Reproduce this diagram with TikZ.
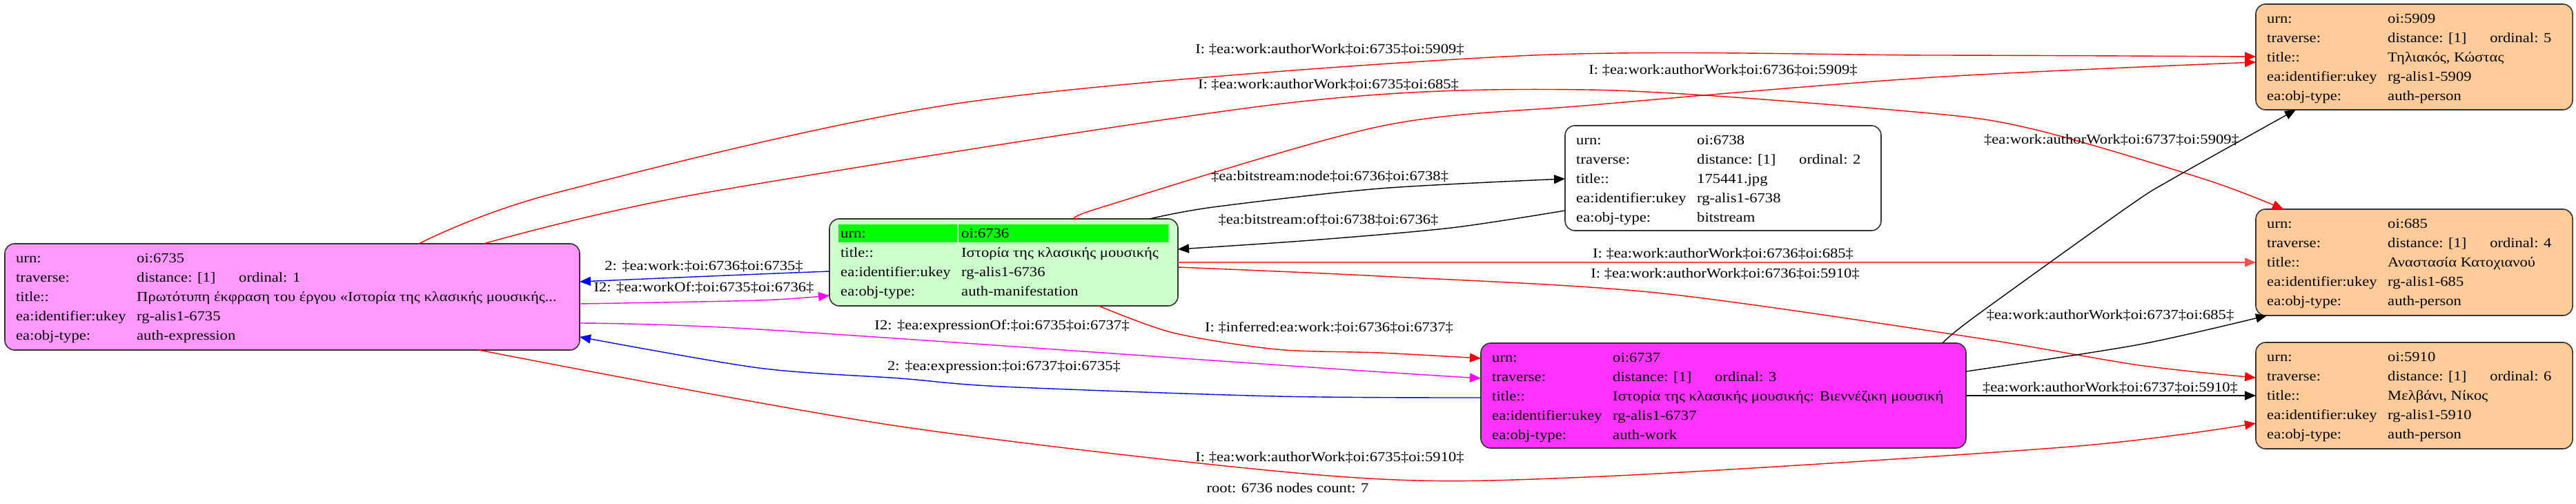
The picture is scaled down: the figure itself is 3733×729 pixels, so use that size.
\documentclass[tikz,border=0pt]{standalone}
\usepackage{fontspec}
\setmainfont{Liberation Serif}[FakeStretch=1.13]
\usetikzlibrary{arrows.meta}
\definecolor{pinkfill}{HTML}{FF99FF}
\definecolor{greenfill}{HTML}{CCFFCC}
\definecolor{greenhead}{HTML}{00FF00}
\definecolor{magfill}{HTML}{FF33FF}
\definecolor{personfill}{HTML}{FFCC99}
\definecolor{lightred}{HTML}{FF4D4D}
\definecolor{edgemag}{HTML}{FF00FF}
\definecolor{boxline}{HTML}{333333}
\newcommand\fldrow[4]{%
  \node[fld] at ([xshift=16pt,yshift={-(27+28*#2)*1pt}]#1.north west) {#3};
  \node[fld] at ([xshift=191pt,yshift={-(27+28*#2)*1pt}]#1.north west) {#4};}
\newcommand\trav[1]{\makebox[148pt][l]{distance: [1]}ordinal: #1}
\begin{document}
\begin{tikzpicture}[x=1pt,y=-1pt,
  recbox/.style={draw=boxline, line width=1.6pt, rounded corners=14pt, anchor=north west, inner sep=0pt, outer sep=0pt},
  fld/.style={anchor=base west, inner sep=0pt, font=\fontsize{20}{24}\selectfont},
  elabel/.style={inner sep=0pt, font=\fontsize{20}{24}\selectfont},
  edgeline/.style={line width=1.4pt, -{Triangle[length=16pt,width=13pt]}},
]
\useasboundingbox[fill=white] (0,0) rectangle (3733,729);

% ---------- nodes ----------
\node[recbox, fill=pinkfill, minimum width=833pt, minimum height=154pt] (n6735) at (7,353) {};
\fldrow{n6735}{0}{urn:}{oi:6735}
\fldrow{n6735}{1}{traverse:}{\trav{1}}
\fldrow{n6735}{2}{title::}{Πρωτότυπη έκφραση του έργου «Ιστορία της κλασικής μουσικής...}
\fldrow{n6735}{3}{ea:identifier:ukey}{rg-alis1-6735}
\fldrow{n6735}{4}{ea:obj-type:}{auth-expression}

\node[recbox, fill=greenfill, minimum width=505pt, minimum height=126pt] (n6736) at (1202,317) {};
\fill[greenhead] ([xshift=13pt,yshift=-8pt]n6736.north west) rectangle ([xshift=185pt,yshift=-34pt]n6736.north west);
\fill[greenhead] ([xshift=187pt,yshift=-8pt]n6736.north west) rectangle ([xshift=491pt,yshift=-34pt]n6736.north west);
\fldrow{n6736}{0}{urn:}{oi:6736}
\fldrow{n6736}{1}{title::}{Ιστορία της κλασικής μουσικής}
\fldrow{n6736}{2}{ea:identifier:ukey}{rg-alis1-6736}
\fldrow{n6736}{3}{ea:obj-type:}{auth-manifestation}

\node[recbox, fill=white, minimum width=458pt, minimum height=152pt] (n6738) at (2268,182) {};
\fldrow{n6738}{0}{urn:}{oi:6738}
\fldrow{n6738}{1}{traverse:}{\trav{2}}
\fldrow{n6738}{2}{title::}{175441.jpg}
\fldrow{n6738}{3}{ea:identifier:ukey}{rg-alis1-6738}
\fldrow{n6738}{4}{ea:obj-type:}{bitstream}

\node[recbox, fill=magfill, minimum width=703pt, minimum height=152pt] (n6737) at (2146,497) {};
\fldrow{n6737}{0}{urn:}{oi:6737}
\fldrow{n6737}{1}{traverse:}{\trav{3}}
\fldrow{n6737}{2}{title::}{Ιστορία της κλασικής μουσικής: Βιεννέζικη μουσική}
\fldrow{n6737}{3}{ea:identifier:ukey}{rg-alis1-6737}
\fldrow{n6737}{4}{ea:obj-type:}{auth-work}

\node[recbox, fill=personfill, minimum width=459pt, minimum height=153pt] (n5909) at (3269,6) {};
\fldrow{n5909}{0}{urn:}{oi:5909}
\fldrow{n5909}{1}{traverse:}{\trav{5}}
\fldrow{n5909}{2}{title::}{Τηλιακός, Κώστας}
\fldrow{n5909}{3}{ea:identifier:ukey}{rg-alis1-5909}
\fldrow{n5909}{4}{ea:obj-type:}{auth-person}

\node[recbox, fill=personfill, minimum width=459pt, minimum height=154pt] (n685) at (3269,303) {};
\fldrow{n685}{0}{urn:}{oi:685}
\fldrow{n685}{1}{traverse:}{\trav{4}}
\fldrow{n685}{2}{title::}{Αναστασία Κατοχιανού}
\fldrow{n685}{3}{ea:identifier:ukey}{rg-alis1-685}
\fldrow{n685}{4}{ea:obj-type:}{auth-person}

\node[recbox, fill=personfill, minimum width=459pt, minimum height=154pt] (n5910) at (3269,496) {};
\fldrow{n5910}{0}{urn:}{oi:5910}
\fldrow{n5910}{1}{traverse:}{\trav{6}}
\fldrow{n5910}{2}{title::}{Μελβάνι, Νίκος}
\fldrow{n5910}{3}{ea:identifier:ukey}{rg-alis1-5910}
\fldrow{n5910}{4}{ea:obj-type:}{auth-person}

% ---------- edges ----------
% 6735 -> 5909
\draw[edgeline, red] plot[smooth, tension=0.5] coordinates {([xshift=600pt]n6735.north west) (803,280) (1400,148) (2200,81) (2800,80) (n5909.west |- 0,82)};
% 6735 -> 685
\draw[edgeline, red] plot[smooth, tension=0.5] coordinates {([xshift=694pt]n6735.north west) (1017,280) (1859,150) (2300,130) (2774,162) (2946,187) (3196,260) ([xshift=40pt]n685.north west)};
% 6736 -> 5909
\draw[edgeline, red] plot[smooth, tension=0.5] coordinates {([xshift=360pt]n6736.north west) (1597,300) (2000,183) (2308,152) (2800,112) (n5909.west |- 0,90)};
% 6736 -> 6738
\draw[edgeline, black] plot[smooth, tension=0.5] coordinates {([xshift=464pt]n6736.north west) (1758,300) (2000,273) (n6738.west |- 0,259)};
% 6738 -> 6736
\draw[edgeline, black] plot[smooth, tension=0.5] coordinates {(n6738.west |- 0,305) (2103,330) (1900,348) (n6736.east |- 0,361)};
% 6736 -> 6735
\draw[edgeline, blue] plot[smooth, tension=0.5] coordinates {(n6736.west |- 0,393) (1100,397) (n6735.east |- 0,408)};
% 6735 -> 6736
\draw[edgeline, edgemag] plot[smooth, tension=0.5] coordinates {(n6735.east |- 0,440) (1100,435) (n6736.west |- 0,428)};
% 6736 -> 6737
\draw[edgeline, red] plot[smooth, tension=0.5] coordinates {([xshift=390pt]n6736.south west) (1700,482) (1850,506) (2000,511) (n6737.west |- 0,519)};
% 6735 -> 6737
\draw[edgeline, edgemag] plot[smooth, tension=0.5] coordinates {(n6735.east |- 0,468) (1100,477) (1900,532) (n6737.west |- 0,548)};
% 6737 -> 6735
\draw[edgeline, blue] plot[smooth, tension=0.5] coordinates {(n6737.west |- 0,576) (1850,574) (1453,560) (1304,548) (1100,533) (n6735.east |- 0,488)};
% 6736 -> 685
\draw[edgeline, lightred] (n6736.east |- 0,380) -- (n685.west |- 0,380);
% 6736 -> 5910
\draw[edgeline, red] plot[smooth, tension=0.5] coordinates {(n6736.east |- 0,387) (2000,400) (2400,424) (2855,488) (3100,529) (n5910.west |- 0,547)};
% 6737 -> 5909
\draw[edgeline, black] plot[smooth, tension=0.5] coordinates {([xshift=669pt]n6737.north west) (2860,460) (3083,300) (3150,258) ([xshift=58pt]n5909.south west)};
% 6737 -> 685
\draw[edgeline, black] plot[smooth, tension=0.5] coordinates {(n6737.east |- 0,538) (3100,499) ([xshift=16pt]n685.south west)};
% 6737 -> 5910
\draw[edgeline, black] (n6737.east |- 0,573) -- (n5910.west |- 0,573);
% 6735 -> 5910
\draw[edgeline, red] plot[smooth, tension=0.5] coordinates {([xshift=687pt]n6735.south west) (1300,617) (1938,690) (2300,691) (3000,647) (n5910.west |- 0,613)};

% ---------- edge labels ----------
\node[elabel] (l1) at (1927,72) {I: ‡ea:work:authorWork‡oi:6735‡oi:5909‡};
\node[elabel] (l2) at (1925,123) {I: ‡ea:work:authorWork‡oi:6735‡oi:685‡};
\node[elabel] (l3) at (2497,102) {I: ‡ea:work:authorWork‡oi:6736‡oi:5909‡};
\node[elabel] (l4) at (1927,256) {‡ea:bitstream:node‡oi:6736‡oi:6738‡};
\node[elabel] (l5) at (1925,319) {‡ea:bitstream:of‡oi:6738‡oi:6736‡};
\node[elabel] (l6) at (1020,386) {2: ‡ea:work:‡oi:6736‡oi:6735‡};
\node[elabel] (l7) at (1020,417) {I2: ‡ea:workOf:‡oi:6735‡oi:6736‡};
\node[elabel] (l8) at (1926,475) {I: ‡inferred:ea:work:‡oi:6736‡oi:6737‡};
\node[elabel] (l9) at (1452,473) {I2: ‡ea:expressionOf:‡oi:6735‡oi:6737‡};
\node[elabel] (l10) at (1455,532) {2: ‡ea:expression:‡oi:6737‡oi:6735‡};
\node[elabel] (l11) at (2497,368) {I: ‡ea:work:authorWork‡oi:6736‡oi:685‡};
\node[elabel] (l12) at (2500,397) {I: ‡ea:work:authorWork‡oi:6736‡oi:5910‡};
\node[elabel] (l13) at (3060,203) {‡ea:work:authorWork‡oi:6737‡oi:5909‡};
\node[elabel] (l14) at (3058,457) {‡ea:work:authorWork‡oi:6737‡oi:685‡};
\node[elabel] (l15) at (3058,562) {‡ea:work:authorWork‡oi:6737‡oi:5910‡};
\node[elabel] (l16) at (1927,663) {I: ‡ea:work:authorWork‡oi:6735‡oi:5910‡};
\node[elabel] (cap) at (1866,707) {root: 6736 nodes count: 7};
\end{tikzpicture}
\end{document}
